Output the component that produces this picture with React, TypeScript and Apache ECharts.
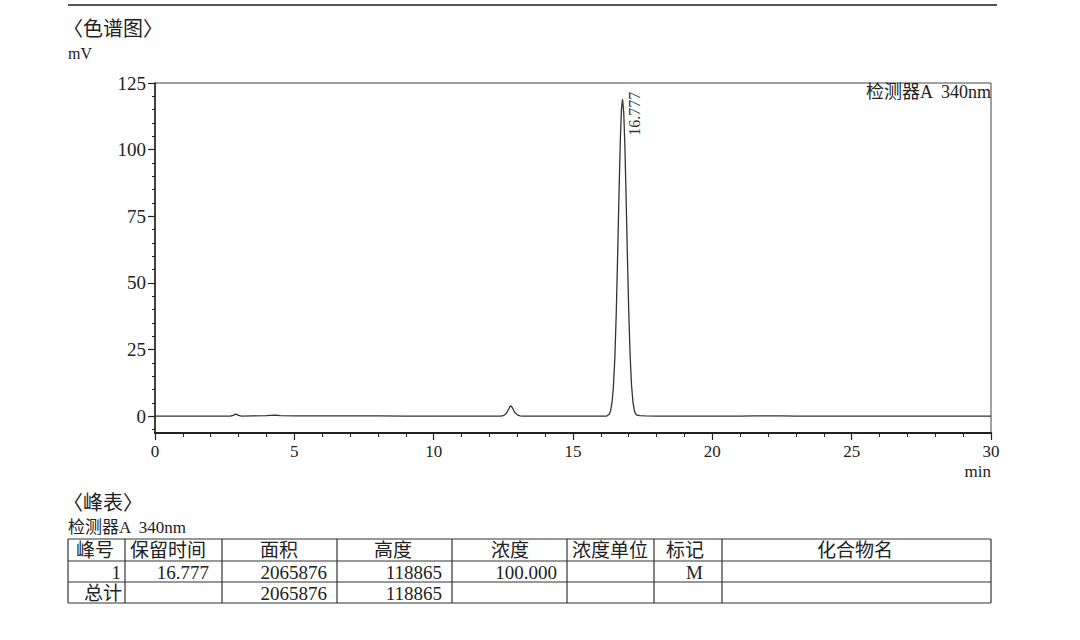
import React, { useEffect, useRef } from "react";
import * as echarts from "echarts";

// ---- chromatogram data (time in min, signal in mV) ----
const times = [
  0, 1.0, 2.0, 2.7, 2.8, 2.9, 3.0, 3.1, 3.5, 4.0, 4.3, 4.5, 5.0, 6.0, 7.0, 8.0, 9.0, 10.0, 11.0, 12.0,
  12.4, 12.5, 12.6, 12.7, 12.75, 12.8, 12.85, 12.9, 13.0, 13.1, 13.2, 14.0, 15.0, 16.0, 16.2,
  16.3, 16.35, 16.4, 16.45, 16.5, 16.55, 16.6, 16.65, 16.7, 16.74, 16.777, 16.82, 16.86, 16.9,
  16.95, 17.0, 17.05, 17.1, 17.15, 17.2, 17.25, 17.3, 17.4, 17.6, 18.0, 19.0, 20.0, 21.0, 21.5,
  22.0, 22.5, 23.0, 24.0, 25.0, 26.0, 27.0, 28.0, 29.0, 30.0,
];
const signal = [
  0, 0, 0, 0, 0.3, 0.8, 0.3, 0, 0.15, 0.2, 0.4, 0.2, 0.15, 0.15, 0.1, 0.1, 0.05, 0, 0, 0,
  0, 0.2, 0.9, 2.8, 3.9, 3.6, 2.6, 1.6, 0.5, 0.1, 0, 0, 0, 0, 0,
  0.76, 2.07, 5.05, 11.0, 21.6, 37.8, 59.3, 83.1, 104.2, 115.3, 118.865, 114.1, 102.0, 84.9,
  61.1, 39.4, 22.7, 11.7, 5.4, 2.2, 0.8, 0.4, 0.2, 0.1, 0.05, 0, 0, 0, 0.1,
  0.1, 0.1, 0, 0, 0, 0, 0, 0, 0, 0,
];
const peakTime = 16.777;
const peakHeight = 118.865;
const peakLabel = "16.777";

// ---- axis ticks ----
const yMajorTicks = [0, 25, 50, 75, 100, 125];
const yMinorTicks = [-5, 5, 10, 15, 20, 30, 35, 40, 45, 55, 60, 65, 70, 80, 85, 90, 95, 105, 110, 115, 120];

// ---- texts ----
const chartTitle = "〈色谱图〉";
const yUnit = "mV";
const xUnit = "min";
const detector = "检测器A  340nm";
const tableTitle = "〈峰表〉";

// ---- peak table ----
const tableHeaders = ["峰号", "保留时间", "面积", "高度", "浓度", "浓度单位", "标记", "化合物名"];
const tableRow1 = ["1", "16.777", "2065876", "118865", "100.000", "", "M", ""];
const tableRow2 = ["总计", "", "2065876", "118865", "", "", "", ""];

const SERIF = "'Liberation Serif', 'Noto Sans CJK SC', serif";

export default function App() {
  const ref = useRef<HTMLDivElement>(null);

  useEffect(() => {
    if (!ref.current) return;
    const chart = echarts.init(ref.current, undefined, { renderer: "svg" });

    const data = times.map((t, i) => [t, signal[i]]);

    // table layout
    const colX = [68, 125, 222, 337, 452, 567, 654, 722, 991];
    const rowY = [539, 561, 582, 603];
    const headerCenters = [95, 168, 279, 393, 510, 610, 685, 855];
    const row1Right = [121, 209, 327, 442, 557, 0, 703, 0];
    const row2Right = [122, 0, 327, 442, 0, 0, 0, 0];

    const g: any[] = [];
    const txt = (text: string, x: number, y: number, size: number, align: string, valign = "middle") => ({
      type: "text",
      silent: true,
      style: {
        text,
        x,
        y,
        font: `${size}px ${SERIF}`,
        fill: "#222",
        align,
        verticalAlign: valign,
        textAlign: align,
        textVerticalAlign: valign,
      },
    });
    const ln = (x1: number, y1: number, x2: number, y2: number, w = 1, c = "#333") => ({
      type: "line",
      silent: true,
      shape: { x1, y1, x2, y2 },
      style: { stroke: c, lineWidth: w },
    });

    g.push(ln(68, 5, 997, 5, 2, "#555"));
    g.push(txt(chartTitle, 63, 29, 20, "left"));
    g.push(txt(yUnit, 68, 53, 16, "left"));
    g.push(txt(detector, 991, 92, 18, "right"));
    g.push(txt(xUnit, 991, 471, 17, "right"));
    g.push(txt(tableTitle, 63, 503, 20, "left"));
    g.push(txt(detector, 68, 527, 17, "left"));

    // table grid
    rowY.forEach((y) => g.push(ln(68, y, 991, y, 1.2)));
    colX.forEach((x) => g.push(ln(x, 539, x, 603, 1.2)));
    tableHeaders.forEach((h, i) => g.push(txt(h, headerCenters[i], 550, 19, "center")));
    tableRow1.forEach((v, i) => {
      if (v) g.push(txt(v, row1Right[i], 572, 19, "right"));
    });
    tableRow2.forEach((v, i) => {
      if (v) g.push(txt(v, row2Right[i], 593, 19, "right"));
    });

    chart.setOption({
      animation: false,
      backgroundColor: "#fff",
      grid: {
        left: 155,
        right: 89,
        top: 83,
        bottom: 207,
        show: true,
        borderColor: "#444",
        borderWidth: 1,
        backgroundColor: "transparent",
      },
      xAxis: {
        type: "value",
        min: 0,
        max: 30,
        interval: 5,
        axisLine: { show: true, onZero: false, lineStyle: { color: "#222", width: 2 } },
        axisTick: { show: true, length: 7, lineStyle: { color: "#222", width: 1.2 } },
        minorTick: { show: true, splitNumber: 5, length: 4, lineStyle: { color: "#222", width: 1 } },
        axisLabel: { fontSize: 17, fontFamily: SERIF, color: "#222", margin: 10 },
        splitLine: { show: false },
      },
      yAxis: [
        {
          type: "value",
          min: -6.3,
          max: 125,
          axisLine: { show: true, lineStyle: { color: "#222", width: 1.5 } },
          axisTick: { show: true, length: 7, customValues: yMajorTicks, lineStyle: { color: "#222", width: 1.2 } },
          axisLabel: { show: true, customValues: yMajorTicks, fontSize: 19, fontFamily: SERIF, color: "#222", margin: 9 },
          splitLine: { show: false },
        },
        {
          type: "value",
          min: -6.3,
          max: 125,
          position: "left",
          axisLine: { show: false },
          axisTick: { show: true, length: 3, customValues: yMinorTicks, lineStyle: { color: "#222", width: 1 } },
          axisLabel: { show: false },
          splitLine: { show: false },
        },
      ],
      series: [
        {
          type: "line",
          data,
          showSymbol: false,
          symbol: "none",
          lineStyle: { color: "#333", width: 1.3 },
          clip: true,
          markPoint: {
            symbol: "circle",
            symbolSize: 1,
            itemStyle: { color: "rgba(0,0,0,0)" },
            data: [{ coord: [peakTime, peakHeight] }],
            label: {
              show: true,
              formatter: peakLabel,
              position: [12, 37],
              rotate: 90,
              align: "left",
              verticalAlign: "middle",
              fontSize: 16,
              fontFamily: SERIF,
              color: "#333",
            },
          },
        },
      ],
      graphic: g,
    });

    return () => chart.dispose();
  }, []);

  return (
    <div
      ref={ref}
      style={{ position: "absolute", left: 0, top: 0, width: 1080, height: 640, background: "#fff" }}
    />
  );
}
